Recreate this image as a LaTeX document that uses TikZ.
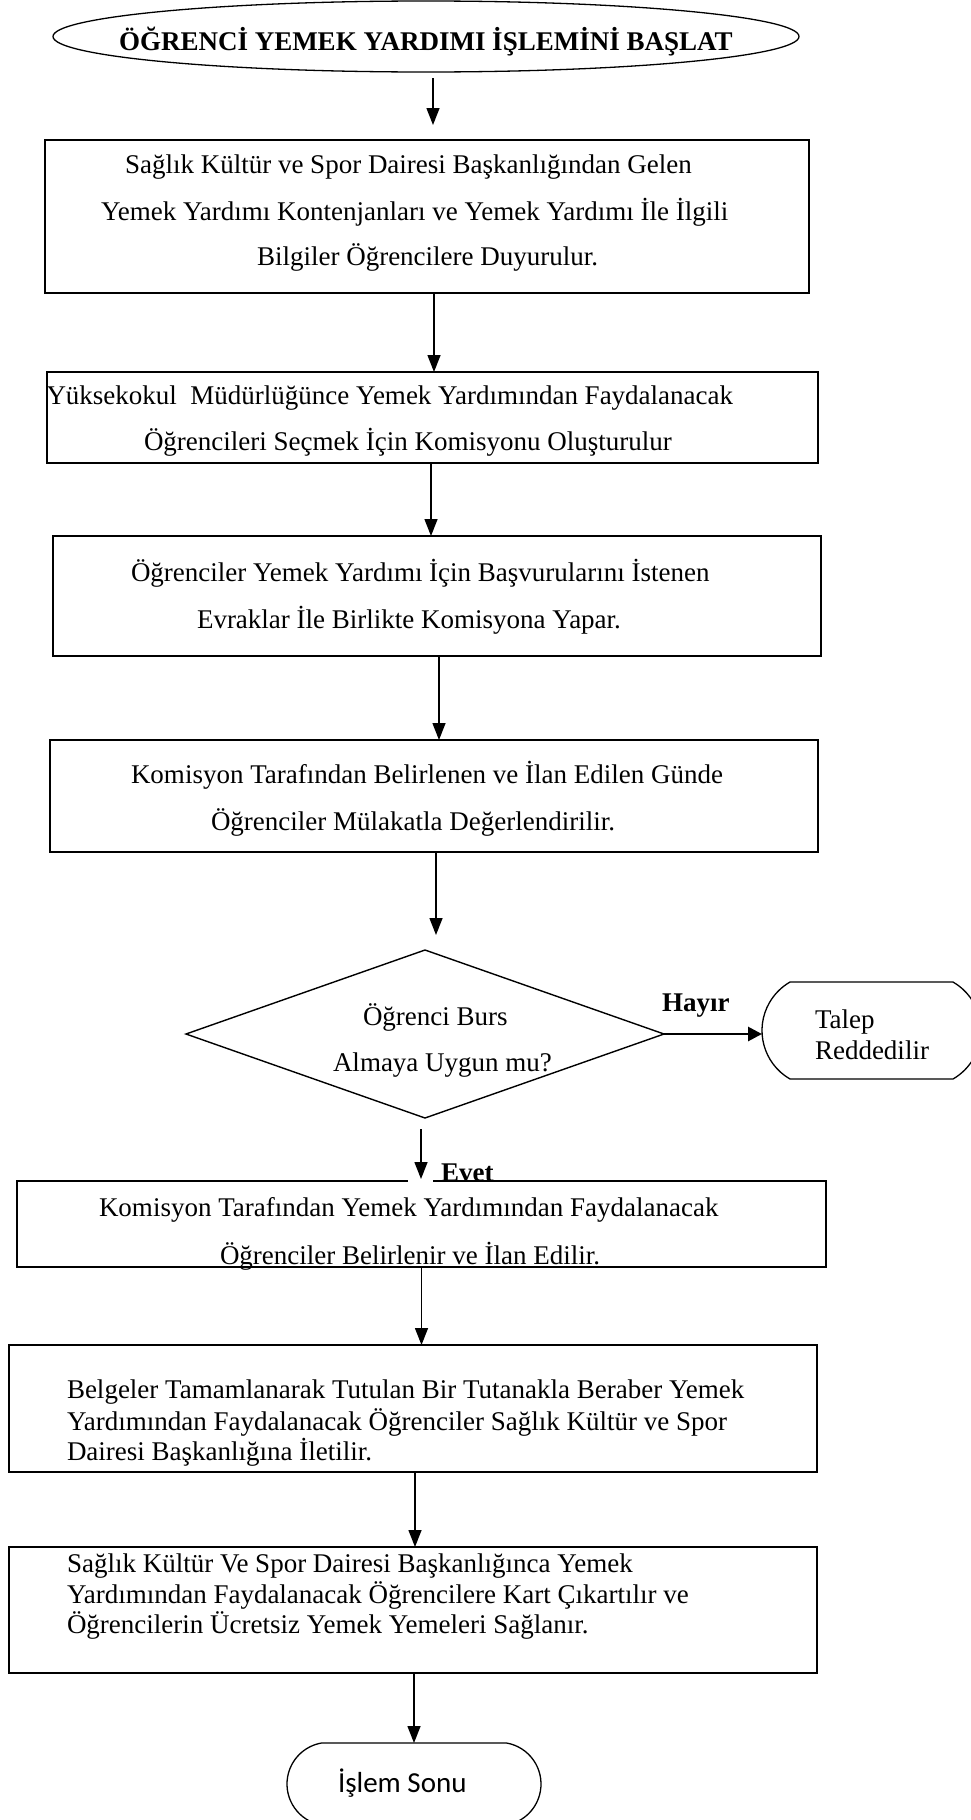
\documentclass[tikz,border=0pt]{standalone}
\usepackage{fontspec}
\setmainfont{Liberation Serif}
\newfontfamily\endfont{Carlito}
\usetikzlibrary{arrows.meta,shapes.geometric,shapes.misc}

\begin{document}
\begin{tikzpicture}[x=1pt,y=-1pt,
  every node/.style={inner sep=0pt, outer sep=0pt},
  txt/.style={anchor=base west, font=\fontsize{27}{31}\selectfont},
  btxt/.style={anchor=base west, font=\fontsize{27}{31}\selectfont\bfseries},
  procbox/.style={draw, rectangle, line width=1.8pt},
  termshape/.style={draw, rounded rectangle, line width=1.3pt},
  arr/.style={line width=1.4pt, -{Triangle[length=17pt,width=13pt]}},
  arrthick/.style={line width=2.8pt, -{Triangle[length=14pt,width=14pt]}}
]
\useasboundingbox (0,0) rectangle (971,1820);
\fill[white] (0,0) rectangle (971,1820);
\clip (0,0) rectangle (971,1820);

% start terminal
\node[draw, ellipse, line width=1.3pt, minimum width=746pt, minimum height=71pt] (start) at (426,36.5) {};
\node[btxt] (starttxt) at (119,50) {ÖĞRENCİ YEMEK YARDIMI İŞLEMİNİ BAŞLAT};

% process boxes
\node[procbox, minimum width=764pt, minimum height=153pt] (b1) at (427,216.5) {};
\node[txt] (b1a) at (125,173) {Sağlık Kültür ve Spor Dairesi Başkanlığından Gelen};
\node[txt] (b1b) at (101,220) {Yemek Yardımı Kontenjanları ve Yemek Yardımı İle İlgili};
\node[txt] (b1c) at (257,265) {Bilgiler Öğrencilere Duyurulur.};

\node[procbox, minimum width=771pt, minimum height=91pt] (b2) at (432.5,417.5) {};
\node[txt] (b2a) at (46.5,404) {Yüksekokul\ \ Müdürlüğünce Yemek Yardımından Faydalanacak};
\node[txt] (b2b) at (144,450) {Öğrencileri Seçmek İçin Komisyonu Oluşturulur};

\node[procbox, minimum width=768pt, minimum height=120pt] (b3) at (437,596) {};
\node[txt] (b3a) at (131,581) {Öğrenciler Yemek Yardımı İçin Başvurularını İstenen};
\node[txt] (b3b) at (197,628) {Evraklar İle Birlikte Komisyona Yapar.};

\node[procbox, minimum width=768pt, minimum height=112pt] (b4) at (434,796) {};
\node[txt] (b4a) at (131,783) {Komisyon Tarafından Belirlenen ve İlan Edilen Günde};
\node[txt] (b4b) at (211,830) {Öğrenciler Mülakatla Değerlendirilir.};

% decision
\node[draw, diamond, line width=1.4pt, minimum width=478pt, minimum height=168pt] (dia) at (425,1034) {};
\node[txt] (diaa) at (363,1025) {Öğrenci Burs};
\node[txt] (diab) at (333,1071) {Almaya Uygun mu?};

% rejection terminal
\node[termshape, rounded rectangle arc length=120, minimum width=219pt, minimum height=97pt] (rej) at (871.5,1030.5) {};
\node[txt] (reja) at (815,1028) {Talep};
\node[txt] (rejb) at (815,1059) {Reddedilir};
\node[btxt] (no) at (662,1011) {Hayır};

\node[procbox, minimum width=809pt, minimum height=86pt] (b5) at (421.5,1224) {};
\node[txt] (b5a) at (99,1216) {Komisyon Tarafından Yemek Yardımından Faydalanacak};
\node[txt] (b5b) at (220,1264) {Öğrenciler Belirlenir ve İlan Edilir.};

\node[procbox, minimum width=808pt, minimum height=127pt] (b6) at (413,1408.5) {};
\node[txt] (b6a) at (67,1398) {Belgeler Tamamlanarak Tutulan Bir Tutanakla Beraber Yemek};
\node[txt] (b6b) at (67,1430) {Yardımından Faydalanacak Öğrenciler Sağlık Kültür ve Spor};
\node[txt] (b6c) at (67,1460) {Dairesi Başkanlığına İletilir.};

\node[procbox, minimum width=808pt, minimum height=126pt] (b7) at (413,1610) {};
\node[txt] (b7a) at (67,1572) {Sağlık Kültür Ve Spor Dairesi Başkanlığınca Yemek};
\node[txt] (b7b) at (67,1603) {Yardımından Faydalanacak Öğrencilere Kart Çıkartılır ve};
\node[txt] (b7c) at (67,1633) {Öğrencilerin Ücretsiz Yemek Yemeleri Sağlanır.};

% end terminal
\node[termshape, rounded rectangle arc length=160, minimum width=254pt, minimum height=82pt] (end) at (414,1784) {};
\node[anchor=base west, font=\endfont\fontsize{29}{33}\selectfont] (endtxt) at (338,1792) {İşlem Sonu};

% connectors
\draw[arr, shorten <=6pt, shorten >=15pt] ([xshift=7pt]start.south) -- ([xshift=7pt]start.south |- b1.north);
\draw[arr] ([xshift=7pt]b1.south) -- ([xshift=7pt]b1.south |- b2.north);
\draw[arr] ([xshift=-1.5pt]b2.south) -- ([xshift=-1.5pt]b2.south |- b3.north);
\draw[arr] ([xshift=2pt]b3.south) -- ([xshift=2pt]b3.south |- b4.north);
\draw[arr, shorten >=15pt] ([xshift=2pt]b4.south) -- ([xshift=2pt]b4.south |- dia.north);
\draw[arrthick] (dia.east) -- (dia.east -| rej.west);

% opening in the top edge of the box below the decision
\fill[white] ([xshift=-13.5pt,yshift=3pt]b5.north) rectangle ([xshift=11.5pt,yshift=-3pt]b5.north);
\draw[arr, shorten <=11pt, shorten >=2pt] ([xshift=-4pt]dia.south) -- ([xshift=-4pt]dia.south |- b5.north);
\node[btxt] (yes) at (441,1181) {Evet};

\draw[arr] (b5.south) -- (b5.south |- b6.north);
\draw[arr] ([xshift=2pt]b6.south) -- ([xshift=2pt]b6.south |- b7.north);
\draw[arr] ([xshift=1pt]b7.south) -- ([xshift=1pt]b7.south |- end.north);
\end{tikzpicture}
\end{document}
